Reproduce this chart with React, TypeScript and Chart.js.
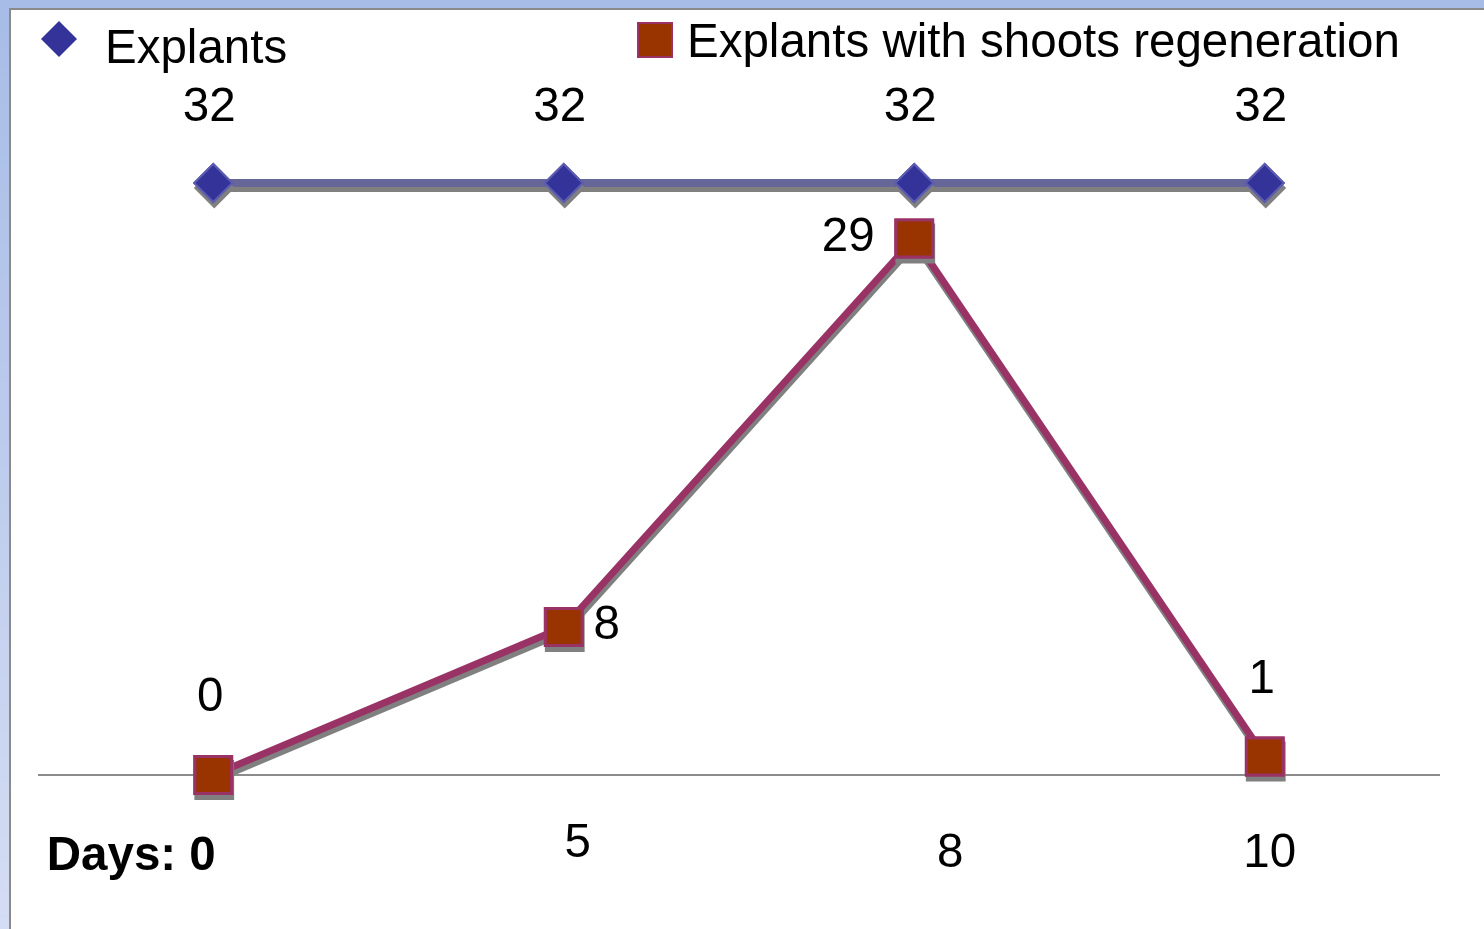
import React, { useEffect, useRef } from "react";
import { Chart, registerables } from "chart.js";

Chart.register(...registerables);

const categories = ["Days: 0", "5", "8", "10"];
const explants = [32, 32, 32, 32];
const regenerated = [0, 8, 29, 1];
const seriesNames = ["Explants", "Explants with shoots regeneration"];

const FONT = '"Liberation Sans", Arial, Helvetica, sans-serif';
const FS = 47.5;

const decorPlugin = {
  id: "decor",
  beforeDatasetsDraw(chart: any) {
    const { ctx, chartArea, scales } = chart;
    const y0 = scales.y.getPixelForValue(0);
    ctx.save();
    ctx.strokeStyle = "#8c8c8c";
    ctx.lineWidth = 2;
    ctx.beginPath();
    ctx.moveTo(chartArea.left, y0);
    ctx.lineTo(chartArea.right, y0);
    ctx.stroke();
    ctx.restore();
    ctx.save();
    ctx.shadowColor = "rgba(128,128,128,1)";
    ctx.shadowBlur = 0;
    ctx.shadowOffsetX = 1;
    ctx.shadowOffsetY = 5;
  },
  afterDatasetsDraw(chart: any, _args: any, opts: any) {
    const { ctx, scales, chartArea } = chart;
    ctx.restore();
    // redraw markers on top without shadow
    chart.data.datasets.forEach((_ds: any, di: number) => {
      const meta = chart.getDatasetMeta(di);
      meta.data.forEach((pt: any) => pt.draw(ctx, chartArea));
    });
    ctx.save();
    ctx.fillStyle = "#000";
    ctx.textAlign = "center";
    ctx.textBaseline = "middle";
    ctx.font = `${FS}px ${FONT}`;
    chart.data.datasets.forEach((ds: any, di: number) => {
      const meta = chart.getDatasetMeta(di);
      meta.data.forEach((pt: any, i: number) => {
        const off = opts.labelOffsets[di][i];
        ctx.fillText(String(ds.data[i]), pt.x + off[0], pt.y + off[1]);
      });
    });
    const y0 = scales.y.getPixelForValue(0);
    chart.data.labels.forEach((lab: string, i: number) => {
      const off = opts.tickOffsets[i];
      ctx.font = i === 0 ? `bold ${FS}px ${FONT}` : `${FS}px ${FONT}`;
      ctx.fillText(lab, scales.x.getPixelForValue(i) + off[0], y0 + off[1]);
    });
    const ds0 = chart.data.datasets[0];
    const ds1 = chart.data.datasets[1];
    ctx.font = `${FS}px ${FONT}`;
    ctx.textAlign = "left";
    const [dx, dy] = opts.legend.diamond;
    const h = 18;
    ctx.fillStyle = ds0.pointBackgroundColor;
    ctx.beginPath();
    ctx.moveTo(dx - h, dy);
    ctx.lineTo(dx, dy - h);
    ctx.lineTo(dx + h, dy);
    ctx.lineTo(dx, dy + h);
    ctx.closePath();
    ctx.fill();
    ctx.fillStyle = "#000";
    ctx.fillText(ds0.label, opts.legend.text0[0], opts.legend.text0[1]);
    const [sx, sy] = opts.legend.square;
    ctx.fillStyle = ds1.pointBackgroundColor;
    ctx.fillRect(sx, sy, 36, 36);
    ctx.strokeStyle = ds1.pointBorderColor;
    ctx.lineWidth = 2;
    ctx.strokeRect(sx + 1, sy + 1, 34, 34);
    ctx.fillStyle = "#000";
    ctx.fillText(ds1.label, opts.legend.text1[0], opts.legend.text1[1]);
    ctx.restore();
  },
};

export default function App() {
  const ref = useRef<HTMLCanvasElement | null>(null);
  useEffect(() => {
    if (!ref.current) return;
    const chart = new Chart(ref.current, {
      type: "line",
      data: {
        labels: categories,
        datasets: [
          {
            label: seriesNames[0],
            data: explants,
            borderColor: "#666699",
            borderWidth: 8,
            pointStyle: "rectRot",
            pointRadius: 19,
            pointBackgroundColor: "#333399",
            pointBorderColor: "#5c5cb0",
            pointBorderWidth: 2,
            clip: false,
            tension: 0,
          },
          {
            label: seriesNames[1],
            data: regenerated,
            borderColor: "#993366",
            borderWidth: 7,
            pointStyle: "rect",
            pointRadius: 26,
            pointBackgroundColor: "#993300",
            pointBorderColor: "#993366",
            pointBorderWidth: 3,
            clip: false,
            tension: 0,
          },
        ],
      },
      options: {
        responsive: false,
        animation: false,
        events: [],
        layout: { padding: { left: 38, right: 44, top: 183, bottom: 154 } },
        scales: {
          x: { type: "category", offset: true, display: false },
          y: { min: 0, max: 32, display: false },
        },
        plugins: {
          legend: { display: false },
          tooltip: { enabled: false },
          decor: {
            labelOffsets: [
              [[-4, -75], [-4, -75], [-4, -75], [-4, -75]],
              [[-3, -77], [43, -1], [-66, -1], [-3, -77]],
            ],
            tickOffsets: [[-82, 82], [14, 69], [36, 79], [5, 79]],
            legend: { diamond: [59, 39], text0: [105, 50], square: [637, 22], text1: [687, 44] },
          },
        } as any,
      },
      plugins: [decorPlugin],
    });
    return () => chart.destroy();
  }, []);
  return (
    <div
      style={{
        position: "fixed",
        left: 0,
        top: 0,
        width: 1484,
        height: 929,
        background: "linear-gradient(180deg, #a7bce6 0%, #c2cfee 60%, #d4ddf3 100%)",
      }}
    >
      <div
        style={{
          position: "absolute",
          left: 9,
          top: 8,
          right: 0,
          bottom: 0,
          background: "#fff",
          borderLeft: "2px solid #8a8a8a",
          borderTop: "2px solid #8a8a8a",
        }}
      />
      <canvas
        ref={ref}
        width={1484}
        height={929}
        style={{ position: "absolute", left: 0, top: 0, width: 1484, height: 929 }}
      />
    </div>
  );
}
